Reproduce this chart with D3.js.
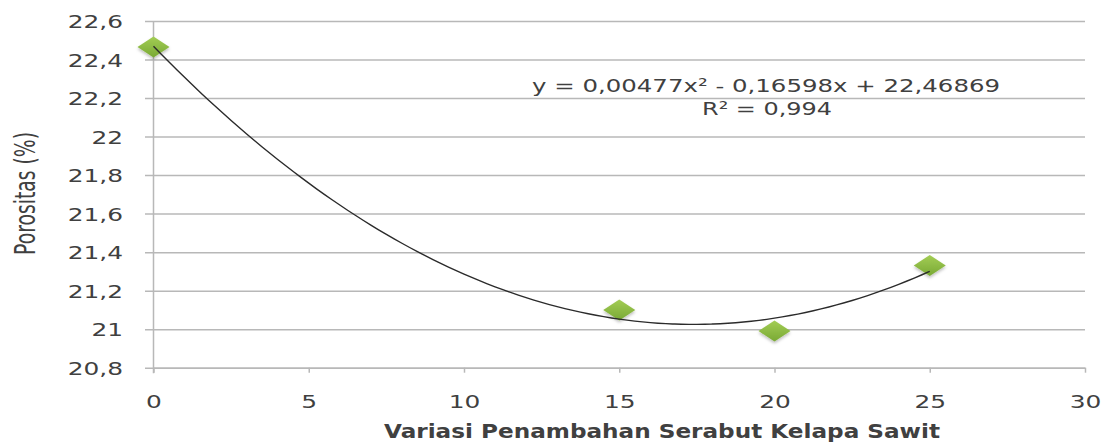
<!DOCTYPE html>
<html lang="id">
<head>
<meta charset="utf-8">
<title>Porositas</title>
<script src="https://cdn.jsdelivr.net/npm/d3@7"></script>
<style>
  body { margin: 0; background: #fff; }
  svg text { font-family: "DejaVu Sans", sans-serif; fill: #404040; }
  .grid line { stroke: #b8b8b8; stroke-width: 1.5; }
  .grid path { display: none; }
  .xaxis path, .xaxis line { stroke: #b8b8b8; stroke-width: 1.5; }
</style>
</head>
<body>
<script>
// data
var xVals = [0, 15, 20, 25];
var yVals = [22.465, 21.10, 20.99, 21.33];
var xTicks = [0, 5, 10, 15, 20, 25, 30];
var yTicks = [20.8, 21, 21.2, 21.4, 21.6, 21.8, 22, 22.2, 22.4, 22.6];
// trendline coefficients (a x^2 + b x + c) from the chart label
var trendCoef = [0.00477, -0.16598, 22.46869];
var eqText = "y = 0,00477x\u00b2 - 0,16598x + 22,46869";
var r2Text = "R\u00b2 = 0,994";

var w = 1107, h = 443;
var plotLeft = 153.5, plotRight = 1085, plotTop = 21, plotBottom = 367.7;
var stretch = 1.38;

var svg = d3.select("body").append("svg")
    .attr("width", w).attr("height", h);

var xScale = d3.scaleLinear().domain([0, 30]).range([plotLeft, plotRight]);
var yScale = d3.scaleLinear().domain([20.8, 22.6]).range([plotBottom, plotTop]);

var comma = function(d) { return String(+d.toFixed(1)).replace(".", ","); };

// gradient + shadow for markers
var defs = svg.append("defs");
var grad = defs.append("linearGradient").attr("id", "mk")
    .attr("x1", 0).attr("y1", 0).attr("x2", 0).attr("y2", 1);
grad.append("stop").attr("offset", "0%").attr("stop-color", "#a3cd55");
grad.append("stop").attr("offset", "100%").attr("stop-color", "#79a934");
var flt = defs.append("filter").attr("id", "sh")
    .attr("x", "-30%").attr("y", "-30%").attr("width", "160%").attr("height", "180%");
flt.append("feDropShadow").attr("dx", 0).attr("dy", 2)
    .attr("stdDeviation", 1.5).attr("flood-color", "#000").attr("flood-opacity", 0.25);

// horizontal gridlines with outer ticks + labels
var grid = svg.append("g")
    .attr("class", "grid")
    .attr("transform", "translate(" + plotRight + ",0)")
    .call(d3.axisLeft(yScale).tickValues(yTicks).tickSize(plotRight - 145).tickFormat(comma));

grid.selectAll("text")
    .attr("x", null).attr("dy", null)
    .attr("font-size", "18px")
    .attr("transform", "translate(" + (123 - plotRight) + ",6.5) scale(" + stretch + ",1)");

// y axis line
svg.append("line")
    .attr("x1", plotLeft).attr("x2", plotLeft)
    .attr("y1", plotTop).attr("y2", plotBottom + 5.5)
    .attr("stroke", "#b8b8b8").attr("stroke-width", 1.5);

// x axis
var xAxis = svg.append("g")
    .attr("class", "xaxis")
    .attr("transform", "translate(0," + plotBottom + ")")
    .call(d3.axisBottom(xScale).tickValues(xTicks).tickSize(5).tickSizeOuter(0));

xAxis.selectAll("text")
    .attr("y", null).attr("dy", null)
    .attr("font-size", "18px")
    .attr("transform", "translate(0,40.5) scale(" + stretch + ",1)");

// markers
svg.append("g").selectAll("path")
    .data(xVals)
    .enter()
    .append("path")
    .attr("d", "M-16,0L0,-10.5L16,0L0,10.5Z")
    .attr("transform", function(d, i) {
        return "translate(" + xScale(d) + "," + yScale(yVals[i]) + ")";
    })
    .attr("fill", "url(#mk)")
    .attr("filter", "url(#sh)");

// polynomial trendline
var trendX = d3.range(0, 25.01, 0.25);
var line = d3.line()
    .x(function(d) { return xScale(d); })
    .y(function(d) { return yScale(trendCoef[0] * d * d + trendCoef[1] * d + trendCoef[2]); })
    .curve(d3.curveMonotoneX);
svg.append("path")
    .datum(trendX)
    .attr("d", line)
    .attr("fill", "none")
    .attr("stroke", "#2b2b2b")
    .attr("stroke-width", 1.4);

// equation labels
svg.append("text")
    .attr("x", 532).attr("y", 92)
    .attr("font-size", "18px")
    .attr("textLength", 468).attr("lengthAdjust", "spacingAndGlyphs")
    .text(eqText);
svg.append("text")
    .attr("x", 702).attr("y", 115)
    .attr("font-size", "18px")
    .attr("textLength", 130).attr("lengthAdjust", "spacingAndGlyphs")
    .text(r2Text);

// axis titles
svg.append("text")
    .attr("transform", "translate(35,255) rotate(-90)")
    .attr("font-size", "29px")
    .attr("font-family", "Liberation Sans, sans-serif")
    .attr("fill", "#1a1a1a")
    .attr("textLength", 123).attr("lengthAdjust", "spacingAndGlyphs")
    .text("Porositas (%)");

svg.append("text")
    .attr("x", 384).attr("y", 438)
    .attr("font-size", "19px")
    .attr("font-weight", "bold")
    .attr("font-family", "Liberation Sans, sans-serif")
    .attr("fill", "#1a1a2a")
    .attr("textLength", 556).attr("lengthAdjust", "spacingAndGlyphs")
    .text("Variasi Penambahan Serabut Kelapa Sawit");
</script>
</body>
</html>
